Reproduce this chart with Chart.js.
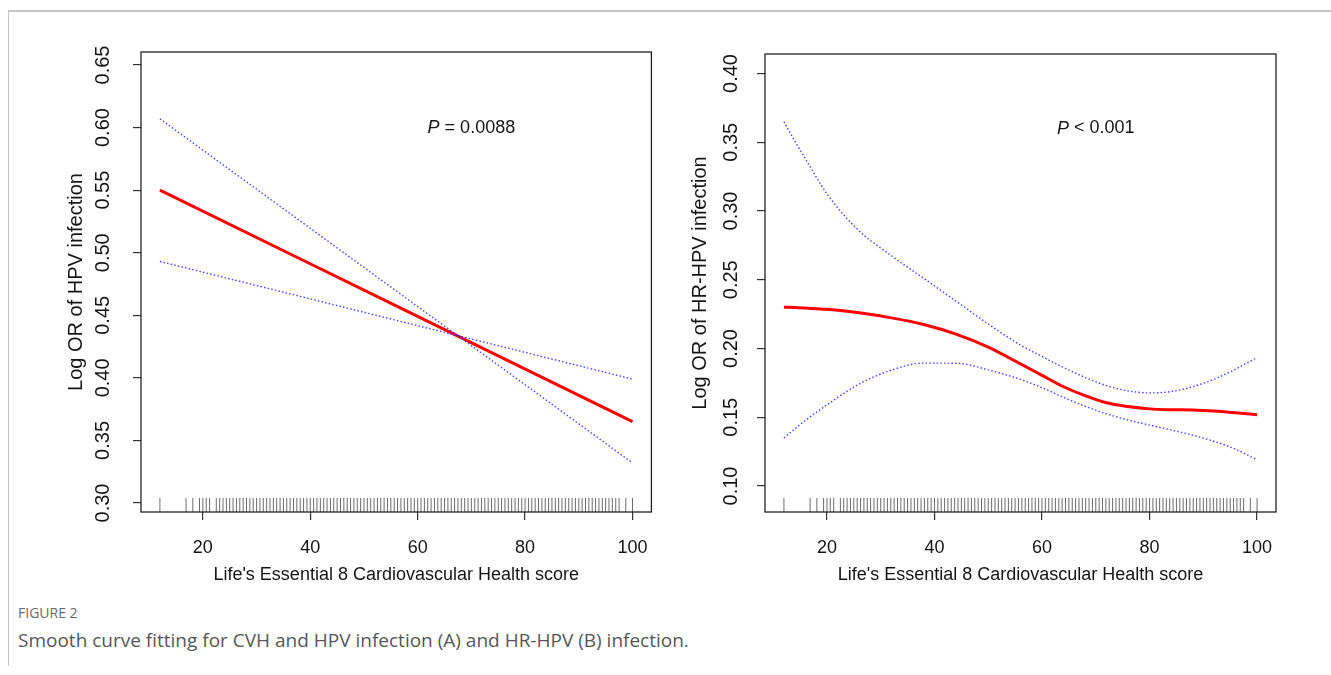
<!DOCTYPE html>
<html>
<head>
<meta charset="utf-8">
<script src="https://cdn.jsdelivr.net/npm/chart.js@4.4.1/dist/chart.umd.min.js"></script>
<style>
    html, body { margin: 0; padding: 0; background: #fff; }
    body { width: 1331px; height: 675px; position: relative; overflow: hidden; }
    .rule-top { position: absolute; left: 8px; top: 10px; width: 1323px; border-top: 2px solid #c6c6c6; }
    .rule-left { position: absolute; left: 8px; top: 10px; height: 656px; border-left: 1px solid #c6c6c6; }
    .panel { position: absolute; top: 0; height: 600px; }
    #panel-a { left: 0; width: 665px; }
    #panel-b { left: 680px; width: 651px; }
    .fig-label { position: absolute; left: 18px; top: 603px; font: 14px 'Open Sans', sans-serif; color: #6a6a6a; }
    .fig-caption { position: absolute; left: 18px; top: 627px; font: 19px 'Open Sans', sans-serif; color: #575757; }
</style>
</head>
<body>
<div class="rule-top"></div>
<div class="rule-left"></div>
<div class="panel" id="panel-a"><canvas id="chart-hpv"></canvas></div>
<div class="panel" id="panel-b"><canvas id="chart-hrhpv"></canvas></div>
<div class="fig-label">FIGURE 2</div>
<div class="fig-caption">Smooth curve fitting for CVH and HPV infection (A) and HR-HPV (B) infection.</div>
<script>
// x axis (LE8 score)
const xTicks = [20, 40, 60, 80, 100]

// panel A: HPV infection
const hpvYTicks = [0.30, 0.35, 0.40, 0.45, 0.50, 0.55, 0.60, 0.65]
const hpvScore = [12, 56, 100]
const hpvFit = [0.550, 0.4575, 0.365]
const hpvUpper = [0.607, 0.4695, 0.332]
const hpvLower = [0.493, 0.446, 0.399]

// panel B: HR-HPV infection
const hrYTicks = [0.10, 0.15, 0.20, 0.25, 0.30, 0.35, 0.40]
const hrScore = [12, 14, 16, 20, 26, 32, 38, 44, 50, 56, 60, 64, 68, 72, 76, 80, 84, 88, 92, 96, 100]
const hrFit = [0.230, 0.2298, 0.2294, 0.2285, 0.2260, 0.2223, 0.2175, 0.2105, 0.2010, 0.1888, 0.1805, 0.1722, 0.1657, 0.1605, 0.1578, 0.1561, 0.1555, 0.1553, 0.1546, 0.1533, 0.1518]
const hrUpper = [0.365, 0.351, 0.338, 0.3125, 0.2855, 0.2675, 0.251, 0.2345, 0.2178, 0.2025, 0.1942, 0.1862, 0.1790, 0.1730, 0.1692, 0.1677, 0.1687, 0.1722, 0.1777, 0.1850, 0.1935]
const hrLower = [0.135, 0.1415, 0.1477, 0.1590, 0.1742, 0.1843, 0.1894, 0.1893, 0.1845, 0.1775, 0.1715, 0.1645, 0.1580, 0.1525, 0.1480, 0.1443, 0.1408, 0.1370, 0.1325, 0.1268, 0.119]

// observed scores (rug)
const rugScores = [
    12, 16.875, 18.125, 19.375, 20, 20.625, 21.25,
    22.5, 23.125, 23.75, 24.375, 25, 25.625, 26.25, 26.875, 27.5, 28.125, 28.75, 29.375,
    30, 30.625, 31.25, 31.875, 32.5, 33.125, 33.75, 34.375, 35, 35.625, 36.25, 36.875, 37.5, 38.125, 38.75, 39.375,
    40, 40.625, 41.25, 41.875, 42.5, 43.125, 43.75, 44.375, 45, 45.625, 46.25, 46.875, 47.5, 48.125, 48.75, 49.375,
    50, 50.625, 51.25, 51.875, 52.5, 53.125, 53.75, 54.375, 55, 55.625, 56.25, 56.875, 57.5, 58.125, 58.75, 59.375,
    60, 60.625, 61.25, 61.875, 62.5, 63.125, 63.75, 64.375, 65, 65.625, 66.25, 66.875, 67.5, 68.125, 68.75, 69.375,
    70, 70.625, 71.25, 71.875, 72.5, 73.125, 73.75, 74.375, 75, 75.625, 76.25, 76.875, 77.5, 78.125, 78.75, 79.375,
    80, 80.625, 81.25, 81.875, 82.5, 83.125, 83.75, 84.375, 85, 85.625, 86.25, 86.875, 87.5, 88.125, 88.75, 89.375,
    90, 90.625, 91.25, 91.875, 92.5, 93.125, 93.75, 94.375, 95, 95.625, 96.25, 96.875, 97.5,
    98.75, 100,
]

const FONT = "'Liberation Sans', Arial, sans-serif"
const INK = '#151515'

const toPoints = (xs, ys) => xs.map((x, i) => ({ x: x, y: ys[i] }))

// box, rug and the P value text
const framePlugin = {
    id: 'frame',
    afterDatasetsDraw(chart, args, opts) {
        const { ctx, chartArea: a, scales } = chart
        ctx.save()
        ctx.strokeStyle = 'rgba(30, 30, 30, 0.65)'
        ctx.lineWidth = 1
        ctx.beginPath()
        rugScores.forEach((v) => {
            const px = scales.x.getPixelForValue(v)
            ctx.moveTo(px, a.bottom)
            ctx.lineTo(px, a.bottom - 14)
        })
        ctx.stroke()

        ctx.strokeStyle = '#222'
        ctx.lineWidth = 1.3
        ctx.strokeRect(a.left, a.top, a.right - a.left, a.bottom - a.top)

        const px = scales.x.getPixelForValue(opts.x)
        const py = scales.y.getPixelForValue(opts.y)
        ctx.fillStyle = INK
        ctx.textBaseline = 'middle'
        ctx.textAlign = 'left'
        ctx.font = 'italic 18px ' + FONT
        const wP = ctx.measureText('P').width
        ctx.font = '18px ' + FONT
        const rest = ' ' + opts.text
        const wR = ctx.measureText(rest).width
        const left = px - (wP + wR) / 2
        ctx.font = 'italic 18px ' + FONT
        ctx.fillText('P', left, py)
        ctx.font = '18px ' + FONT
        ctx.fillText(rest, left + wP, py)
        ctx.restore()
    },
}

const makePanel = (canvasId, cfg) => {
    const ciStyle = {
        borderColor: 'rgba(35, 35, 255, 0.85)',
        borderWidth: 1.4,
        borderDash: [1.5, 2.2],
        pointRadius: 0,
        cubicInterpolationMode: 'monotone',
    }
    return new Chart(document.getElementById(canvasId), {
        type: 'line',
        data: {
            datasets: [
                { ...ciStyle, label: 'upper', data: toPoints(cfg.score, cfg.upper) },
                { ...ciStyle, label: 'lower', data: toPoints(cfg.score, cfg.lower) },
                {
                    label: 'fit',
                    data: toPoints(cfg.score, cfg.fit),
                    borderColor: '#ff0000',
                    borderWidth: 3,
                    pointRadius: 0,
                    cubicInterpolationMode: 'monotone',
                },
            ],
        },
        options: {
            responsive: true,
            maintainAspectRatio: false,
            animation: false,
            layout: { padding: { left: 0, top: cfg.top, right: cfg.right, bottom: 0 } },
            plugins: {
                legend: { display: false },
                tooltip: { enabled: false },
                frame: cfg.p,
            },
            scales: {
                x: {
                    type: 'linear',
                    min: 8.48,
                    max: 103.52,
                    afterBuildTicks: (s) => { s.ticks = xTicks.map((v) => ({ value: v })) },
                    afterFit: (s) => { s.height = 88 },
                    ticks: { font: { family: FONT, size: 18 }, color: INK, padding: 17, autoSkip: false, maxRotation: 0 },
                    grid: { drawOnChartArea: false, drawTicks: true, tickLength: 8, color: '#333', lineWidth: 1.2 },
                    border: { display: false },
                    title: {
                        display: true,
                        text: "Life's Essential 8 Cardiovascular Health score",
                        font: { family: FONT, size: 18 },
                        color: INK,
                        padding: { top: 0, bottom: 14 },
                    },
                },
                y: {
                    type: 'linear',
                    min: cfg.yMin,
                    max: cfg.yMax,
                    afterBuildTicks: (s) => { s.ticks = cfg.yTicks.map((v) => ({ value: v })) },
                    afterFit: (s) => { s.width = cfg.axisWidth },
                    ticks: {
                        font: { family: FONT, size: 20 },
                        color: INK,
                        minRotation: 90,
                        maxRotation: 90,
                        crossAlign: 'center',
                        padding: cfg.tickPad,
                        callback: (v) => v.toFixed(2),
                    },
                    grid: { drawOnChartArea: false, drawTicks: true, tickLength: 8, color: '#333', lineWidth: 1.2 },
                    border: { display: false },
                    title: {
                        display: true,
                        text: cfg.yTitle,
                        font: { family: FONT, size: 20 },
                        color: INK,
                        padding: { top: cfg.titlePad, bottom: 0 },
                    },
                },
            },
        },
        plugins: [framePlugin],
    })
}

makePanel('chart-hpv', {
    score: hpvScore, fit: hpvFit, upper: hpvUpper, lower: hpvLower,
    yTicks: hpvYTicks, yMin: 0.2928, yMax: 0.6604,
    yTitle: 'Log OR of HPV infection',
    top: 52, right: 13, axisWidth: 141, tickPad: 10.5, titlePad: 64,
    p: { x: 70, y: 0.60, text: '= 0.0088' },
})

makePanel('chart-hrhpv', {
    score: hrScore, fit: hrFit, upper: hrUpper, lower: hrLower,
    yTicks: hrYTicks, yMin: 0.0811, yMax: 0.4142,
    yTitle: 'Log OR of HR-HPV infection',
    top: 54, right: 55, axisWidth: 85, tickPad: 6.5, titlePad: 8,
    p: { x: 70, y: 0.36, text: '< 0.001' },
})
</script>
</body>
</html>
